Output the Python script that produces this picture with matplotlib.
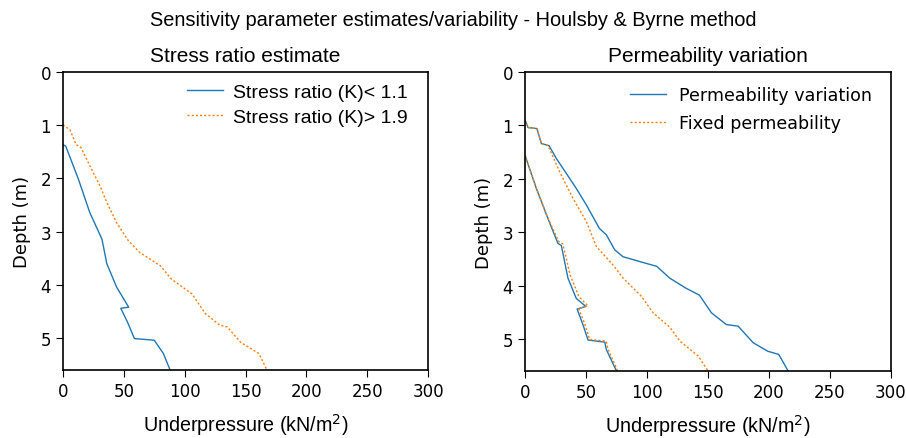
import matplotlib
matplotlib.use("Agg")
import matplotlib.pyplot as plt

# Left panel: stress ratio estimate
k_low_x = [0, 2.2, 12.6, 22, 32, 36, 44, 54, 47.5, 53, 58.7, 75, 82.5, 88]
k_low_d = [1.37, 1.39, 2.01, 2.64, 3.14, 3.6, 4.04, 4.42, 4.44, 4.7, 5.01, 5.04, 5.29, 5.6]
k_high_x = [0, 5.8, 10.7, 14.8, 22, 30.4, 36, 44, 53.7, 63, 80, 89, 106, 117, 129, 135, 146, 161, 167.6]
k_high_d = [0.99, 1.09, 1.36, 1.42, 1.76, 2.14, 2.45, 2.83, 3.17, 3.39, 3.64, 3.89, 4.17, 4.54, 4.76, 4.79, 5.08, 5.29, 5.6]

# Right panel: permeability variation
pv_up_x = [0, 2.5, 9.8, 13.4, 19.7, 25.7, 33.9, 42, 50.3, 61, 66.7, 73.5, 80.4, 94, 108, 118.6, 132, 143, 152.8, 165, 174.7, 187, 199, 208, 215.7]
pv_up_d = [0.9, 1.04, 1.06, 1.34, 1.38, 1.62, 1.9, 2.18, 2.49, 2.93, 3.05, 3.33, 3.46, 3.55, 3.64, 3.86, 4.05, 4.18, 4.51, 4.73, 4.76, 5.07, 5.23, 5.29, 5.6]
pv_lo_x = [0, 9.3, 18.9, 27, 29.8, 35.2, 42, 49.8, 42.7, 47.6, 51.7, 65.4, 66.7, 75]
pv_lo_d = [1.56, 2.18, 2.75, 3.21, 3.25, 3.86, 4.24, 4.39, 4.44, 4.74, 5.02, 5.06, 5.2, 5.6]
fx_up_x = [0, 2.5, 9.8, 13.4, 18.9, 28.4, 39.4, 50.3, 58.5, 72, 80.4, 95.4, 105, 118.7, 127, 142, 150]
fx_up_d = [0.9, 1.04, 1.06, 1.34, 1.38, 1.87, 2.37, 2.8, 3.27, 3.61, 3.86, 4.2, 4.51, 4.78, 5.04, 5.32, 5.6]
fx_lo_x = [0, 9.0, 18.5, 27.5, 31.0, 37.0, 44, 51.5, 44.0, 49.0, 53.0, 66.5, 68.0, 76]
fx_lo_d = [1.56, 2.16, 2.72, 3.17, 3.22, 3.8, 4.2, 4.38, 4.43, 4.72, 5.01, 5.04, 5.19, 5.6]

xticks = [0, 50, 100, 150, 200, 250, 300]
yticks = [0, 1, 2, 3, 4, 5]

BLUE = "#1f77b4"
ORANGE = "#ff7f0e"
ARIAL = ["Liberation Sans", "DejaVu Sans"]

fig = plt.figure(figsize=(9.06, 4.39), dpi=100)
W, H = 906, 439
ax1 = fig.add_axes([63 / W, 1 - 371 / H, (428 - 63) / W, (371 - 73) / H])
ax2 = fig.add_axes([525 / W, 1 - 372 / H, (891 - 525) / W, (372 - 73) / H])

l1, = ax1.plot(k_low_x, k_low_d, color=BLUE, lw=1.0)
l2, = ax1.plot(k_high_x, k_high_d, color=ORANGE, lw=1.0, ls=(0, (1.5, 1.5)))
ax1.legend([l1, l2], ["Stress ratio (K)< 1.1", "Stress ratio (K)> 1.9"], frameon=False,
           loc="upper right", bbox_to_anchor=(0.977, 1.0), prop={"family": ARIAL, "size": 14},
           handlelength=1.85, handletextpad=0.5, borderaxespad=0.2, labelspacing=0.35)
ax1.set_title("Stress ratio estimate", family=ARIAL, fontsize=15, pad=8)

m1, = ax2.plot(pv_up_x, pv_up_d, color=BLUE, lw=1.0)
ax2.plot(pv_lo_x, pv_lo_d, color=BLUE, lw=1.0)
m2, = ax2.plot(fx_up_x, fx_up_d, color=ORANGE, lw=1.0, ls=(0, (1.5, 1.5)))
ax2.plot(fx_lo_x, fx_lo_d, color=ORANGE, lw=1.0, ls=(0, (1.5, 1.5)))
ax2.legend([m1, m2], ["Permeability variation", "Fixed permeability"], frameon=False,
           loc="upper right", bbox_to_anchor=(0.985, 1.0), prop={"family": "DejaVu Sans", "size": 12.6},
           handlelength=2.06, handletextpad=0.74, borderaxespad=0.4, labelspacing=0.55)
ax2.set_title("Permeability variation", family=ARIAL, fontsize=15, pad=8)

for ax in (ax1, ax2):
    ax.set_xlim(0, 300)
    ax.set_ylim(5.6, 0)
    ax.set_xticks(xticks)
    ax.set_yticks(yticks)
    ax.tick_params(labelsize=12, length=5)
    ax.set_xlabel("Underpressure (kN/m$^2$)", family=ARIAL, fontsize=14.2, labelpad=8)
    ax.set_ylabel("Depth (m)", fontsize=13, labelpad=7)
    for s in ax.spines.values():
        s.set_linewidth(1.2)

fig.suptitle("Sensitivity parameter estimates/variability - Houlsby & Byrne method",
             family=ARIAL, fontsize=14.4, y=0.975)

fig.savefig("out.png", dpi=100)
